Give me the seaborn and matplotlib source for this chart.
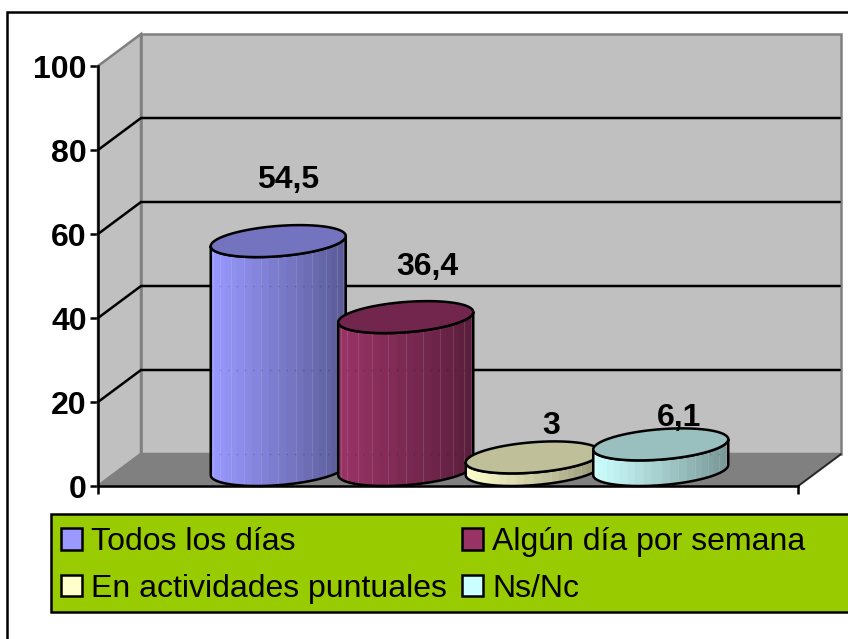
import numpy as np
import seaborn as sns
import matplotlib.pyplot as plt
from matplotlib.patches import Patch, PathPatch, Polygon, Rectangle
from matplotlib.path import Path

# Data
series = ['Todos los días', 'Algún día por semana', 'En actividades puntuales', 'Ns/Nc']
values = [54.5, 36.4, 3, 6.1]
value_labels = ['54,5', '36,4', '3', '6,1']
colors = ['#9999FF', '#993366', '#FFFFCC', '#CCFFFF']
y_ticks = [0, 20, 40, 60, 80, 100]

# Label offsets from the top of each cylinder, in pixels
label_offsets = [(10, 61), (22, 50), (18, 31), (18, 26)]

W, H = 848, 639
LW = 1.8  # 2.5 px

sns.set_theme(style='white')
plt.rcParams['font.family'] = ['Liberation Sans', 'DejaVu Sans']

fig = plt.figure(figsize=(W / 100, H / 100), dpi=100, facecolor='white')
ax = fig.add_axes([98 / W, 1 - 486 / H, 700 / W, 420 / H])
ax.set_facecolor('none')

# Bars give the cylinder positions and heights
sns.barplot(x=series, y=values, hue=series, palette=colors, width=1.059,
            dodge=False, legend=False, saturation=1, ax=ax)
xlim = (-1.245, 4.245)
ax.set_xlim(xlim)
ax.set_ylim(0, 100)
ax.set_xlabel('')
ax.set_ylabel('')

# 3D box depth in data units
DX = 43 / 127.5
DY = 32 / 4.2
x0, x1 = xlim

ax.add_patch(Polygon([(x0 + DX, DY), (x1 + DX, DY), (x1 + DX, 100 + DY), (x0 + DX, 100 + DY)],
                     fc='#C0C0C0', ec='#808080', lw=LW, clip_on=False, zorder=0.5))
ax.add_patch(Polygon([(x0, 0), (x0 + DX, DY), (x0 + DX, 100 + DY), (x0, 100)],
                     fc='#C0C0C0', ec='#808080', lw=LW, clip_on=False, zorder=0.6))
ax.add_patch(Polygon([(x0, 0), (x1, 0), (x1 + DX, DY), (x0 + DX, DY)],
                     fc='#808080', ec='#808080', lw=LW, clip_on=False, zorder=0.7))
ax.plot([x1, x1 + DX], [0, DY], color='#222222', lw=1.2, clip_on=False, zorder=0.8)

for g in y_ticks[1:-1]:
    ax.plot([x0, x0 + DX, x1 + DX - 0.01], [g, g + DY, g + DY], color='black', lw=LW,
            solid_joinstyle='miter', clip_on=False, zorder=0.9)


def ring(cx, base, a, b, c, t):
    return cx + b + a * np.cos(t) + b * np.sin(t), base + c + c * np.sin(t)


# Cylinders, later ones sit in front of earlier ones
for i, (bar, color) in enumerate(zip(ax.patches, colors)):
    w = bar.get_width()
    cx = bar.get_x() + w / 2
    v = bar.get_height()
    z = 2 + i
    b = DX / 2
    c = DY / 2
    a = np.sqrt((w / 2) ** 2 - b ** 2)
    t0 = np.arctan2(b, a)

    low = np.linspace(t0 + np.pi, t0 + 2 * np.pi, 80)
    xb, yb = ring(cx, 0, a, b, c, low)
    xt, yt = ring(cx, v, a, b, c, low[::-1])
    verts = np.r_[np.c_[xb, yb], np.c_[xt, yt], [[xb[0], yb[0]]]]
    codes = [Path.MOVETO] + [Path.LINETO] * (len(verts) - 2) + [Path.CLOSEPOLY]
    body = PathPatch(Path(verts, codes), fc='none', ec='black', lw=LW, clip_on=False,
                     joinstyle='round', zorder=z + 0.3)
    ax.add_patch(body)

    bar.set_x(bar.get_x() + b)
    bar.set_y(c)
    bar.set_zorder(z)
    bar.set_clip_path(body)

    # Vertical facets with the shading running from left to right
    rgb = np.array(plt.matplotlib.colors.to_rgb(color))
    left = cx + b - w / 2
    edges = left + w / 2 * (1 - np.cos(np.linspace(0, np.pi, 25)))
    for k in range(24):
        frac = (edges[k] - left) / w
        shade = rgb * (1 - 0.42 * frac)
        strip = ax.fill_between([edges[k], edges[k + 1]], -2, v + DY, color=shade, lw=0.3, zorder=z + 0.1)
        strip.set_clip_path(body)
        if k % 2 == 1:
            edge = ax.vlines(edges[k + 1], -2, v + DY, color='white', alpha=0.12, lw=0.8, zorder=z + 0.15)
            edge.set_clip_path(body)
    for g in [0, 20, 40]:
        dots = ax.hlines(g + DY, left, left + w, color='black', alpha=0.18, lw=1,
                         linestyles=(0, (1, 5)), zorder=z + 0.2)
        dots.set_clip_path(body)

    circle = np.linspace(0, 2 * np.pi, 160)
    xc, yc = ring(cx, v, a, b, c, circle)
    ax.add_patch(Polygon(np.c_[xc, yc], fc=rgb * 0.75, ec='black', lw=LW, clip_on=False, zorder=z + 0.4))

    ax.annotate(value_labels[i], (cx + b, v + c), xytext=label_offsets[i], textcoords='offset pixels',
                ha='center', va='center', fontsize=23, fontweight='bold', color='black',
                annotation_clip=False, zorder=10)

# Axes
for name, spine in ax.spines.items():
    spine.set_visible(name in ('left', 'bottom'))
    spine.set_color('black')
    spine.set_linewidth(LW)
    spine.set_zorder(1)
ax.set_yticks(y_ticks)
ax.set_yticklabels([str(t) for t in y_ticks], fontsize=23, fontweight='bold', color='black')
ax.set_xticks(xlim)
ax.set_xticklabels(['', ''])
ax.tick_params(axis='both', which='major', length=5.8, width=LW, color='black', pad=2.2,
               left=True, bottom=True)

# Chart frame and legend box
fig.add_artist(Rectangle((7 / W, -0.05), 1.05, 1.05 - 12 / H, transform=fig.transFigure,
                         fc='none', ec='black', lw=LW))
fig.add_artist(Rectangle((51 / W, 1 - 611.5 / H), 1, 98 / H, transform=fig.transFigure,
                         fc='#99CC00', ec='black', lw=LW))

# Legend fills column by column, the reference reads row by row
order = [0, 2, 1, 3]
handles = [Patch(fc=colors[i], ec='black', lw=LW) for i in order]
fig.legend(handles, [series[i] for i in order], ncol=2, loc='upper left',
           bbox_to_anchor=(61 / W, 1 - 527 / H),
           frameon=False, fontsize=23, labelcolor='black', borderpad=0, borderaxespad=0,
           handlelength=0.66, handleheight=0.66, handletextpad=0.28, columnspacing=0.47,
           labelspacing=0.52)

fig.savefig('out.png', dpi=100)
